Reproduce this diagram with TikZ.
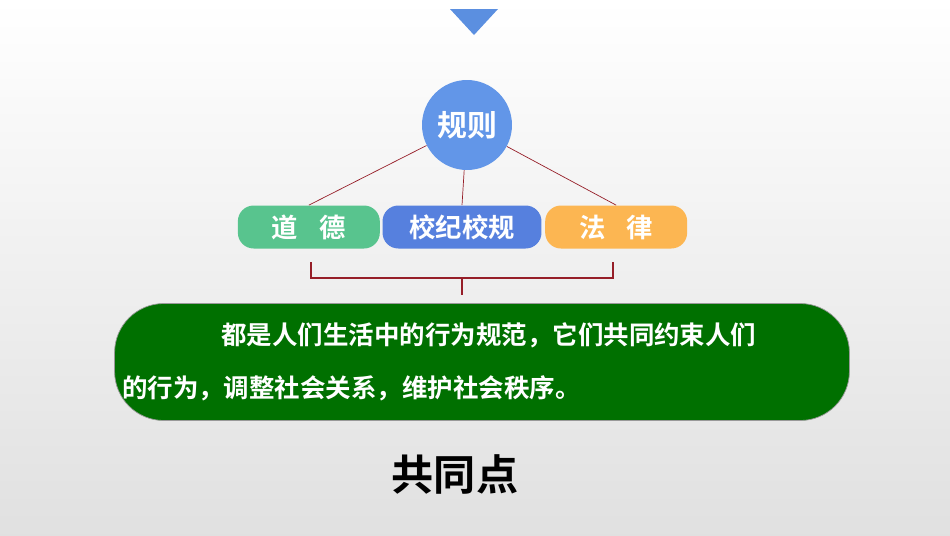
\documentclass[tikz,border=0pt]{standalone}
\usepackage{fontspec}
\newfontfamily\cjk{Noto Sans CJK SC Bold}
\usetikzlibrary{positioning}
\definecolor{arrowblue}{RGB}{91,143,224}
\definecolor{rulecolor}{RGB}{98,150,232}
\definecolor{moralcolor}{RGB}{88,196,142}
\definecolor{schoolcolor}{RGB}{86,128,222}
\definecolor{lawcolor}{RGB}{252,182,82}
\definecolor{linkcolor}{RGB}{150,30,40}
\definecolor{boxgreen}{RGB}{0,112,0}

\begin{document}
\begin{tikzpicture}[x=0.02cm,y=-0.02cm,
    kind/.style={rectangle, rounded corners=9pt, minimum width=2.84cm, minimum height=0.86cm, text=white, font=\cjk\fontsize{15}{18}\selectfont, inner sep=0pt},
    link/.style={draw=linkcolor, thin},
    bracket/.style={draw=linkcolor, line width=1.4pt}
]

% background
\shade[top color=white, bottom color=black!12] (0,0) rectangle (950,535);

% top marker
\fill[arrowblue] (450,9) -- (498,9) -- (474,35) -- cycle;

% root
\node[circle, fill=rulecolor, minimum size=1.8cm, text=white, font=\cjk\fontsize{17}{20}\selectfont] (rule) at (467,125) {规则};

% three kinds
\node[kind, fill=schoolcolor, minimum width=3.18cm] (school) at (462,227) {校纪校规};
\node[kind, fill=moralcolor, left=0.04cm of school] (moral) {道\hspace{0.8em}德};
\node[kind, fill=lawcolor, right=0.06cm of school] (law) {法\hspace{0.8em}律};

\draw[link] (rule) -- (moral.north);
\draw[link] (rule) -- (school.north);
\draw[link] (rule) -- (law.north);

% bracket
\coordinate (bl) at (311,262);
\coordinate (br) at (613,262);
\coordinate (bm) at (462,278);
\coordinate (tip) at (462,295);
\draw[bracket] (bl) |- (bm) -| (br);
\draw[bracket] (bm) -- (tip);

% summary box
\node[rectangle, rounded corners=28pt, fill=boxgreen, draw=black!40, minimum width=14.7cm, minimum height=2.34cm, text=white, text width=14.4cm, font=\cjk\fontsize{14.5}{26}\selectfont, align=left, inner sep=0pt] (summary) at (482,362)
{\hspace*{3.9em}都是人们生活中的行为规范，它们共同约束人们\\[4pt]的行为，调整社会关系，维护社会秩序。};

\node[font=\cjk\fontsize{24}{28}\selectfont, below=0.55cm of summary.south -| rule, xshift=-0.24cm] (common) {共同点};
\end{tikzpicture}
\end{document}
